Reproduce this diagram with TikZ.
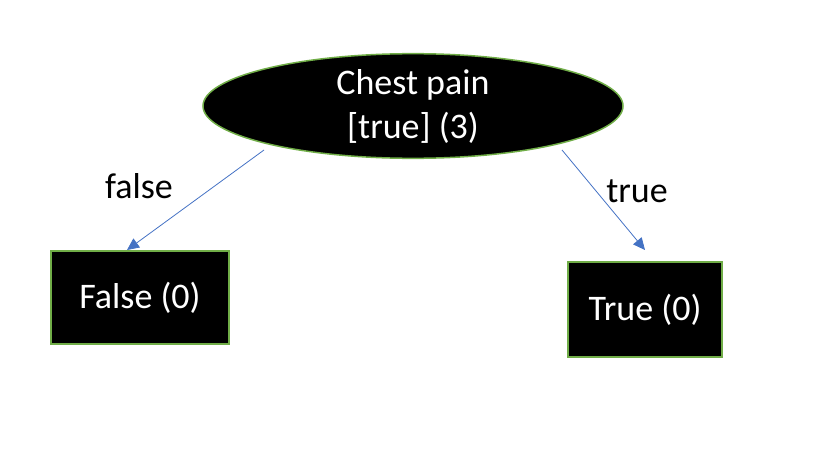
\documentclass[tikz,border=0pt]{standalone}
\usepackage{fontspec}
\setmainfont{Carlito}
\usetikzlibrary{shapes.geometric,arrows.meta}
\definecolor{officegreen}{HTML}{70AD47}
\definecolor{officeblue}{HTML}{4472C4}
\tikzset{
  txt/.style={font=\fontsize{36pt}{44pt}\selectfont},
  rootnode/.style={ellipse, draw=officegreen, line width=1.5pt, fill=black, text=white,
    minimum width=420pt, minimum height=102pt, inner sep=0pt, align=center, txt},
  leafnode/.style={rectangle, draw=officegreen, line width=1.5pt, fill=black, text=white,
    inner sep=0pt, txt},
  arr/.style={draw=officeblue, line width=0.8pt, -{Triangle[length=12pt,width=11pt]}},
  lbl/.style={txt, text=black, inner sep=0pt, anchor=base}
}
\begin{document}
\begin{tikzpicture}[x=1pt,y=-1pt]
\useasboundingbox (0,0) rectangle (834,452);
\node[rootnode] (root) at (413,106) {Chest pain\\{}[true] (3)};
\node[leafnode, minimum width=178pt, minimum height=93pt] (fbox) at (140,297.5) {False (0)};
\node[leafnode, minimum width=154pt, minimum height=95pt] (tbox) at (645,309.5) {True (0)};
\coordinate (ls) at (264,150);
\coordinate (le) at (127,250);
\coordinate (rs) at (562,150);
\coordinate (re) at (645,250);
\draw[arr] (ls) -- (le);
\draw[arr] (rs) -- (re);
\node[lbl] (flbl) at (139,198) {false};
\node[lbl] (tlbl) at (637,202) {true};
\end{tikzpicture}
\end{document}
